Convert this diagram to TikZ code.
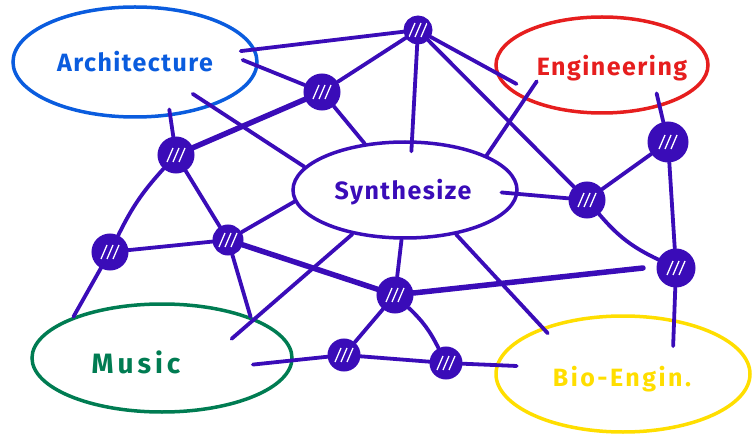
\documentclass[tikz,border=0pt]{standalone}
\usepackage{fontspec}
\setmainfont{Fira Sans}[LetterSpace=6]
\usetikzlibrary{shapes.geometric}

\definecolor{net}{RGB}{58,12,184}
\definecolor{archblue}{RGB}{10,92,222}
\definecolor{engred}{RGB}{230,30,30}
\definecolor{musicgreen}{RGB}{0,124,82}
\definecolor{bioyellow}{RGB}{255,222,0}

\begin{document}
\begin{tikzpicture}[x=1pt, y=-1pt,
    field/.style={ellipse, draw=#1, line width=3.5pt, inner sep=0pt},
    fieldname/.style={text=#1, font=\fontsize{25}{30}\selectfont\bfseries},
    hub/.style={circle, draw=net, fill=net, line width=3pt,
                minimum size=#1, inner sep=0pt,
                path picture={\foreach \o in {-6,0,6}
                    \draw[white, line width=1.3pt]
                        ([xshift={(\o-3)*1pt}, yshift=-7pt]path picture bounding box.center)
                     -- ([xshift={(\o+3)*1pt}, yshift=7pt]path picture bounding box.center);}},
    link/.style={draw=net, line width=3.8pt, line cap=round},
    heavy/.style={link, line width=5.5pt},
]
    \useasboundingbox (0,0) rectangle (752,438);

    % the five fields
    \node[field=archblue, minimum width=244, minimum height=110] (arch) at (135,62) {};
    \node[field=engred, minimum width=212, minimum height=96] (eng) at (602,65) {};
    \node[field=net, minimum width=224, minimum height=96] (synth) at (405,190) {};
    \node[field=musicgreen, minimum width=260, minimum height=108] (music) at (162,358) {};
    \node[field=bioyellow, minimum width=254, minimum height=116] (bio) at (623,374) {};

    \node[fieldname=archblue] (arch label) at (135,62) {Architecture};
    \node[fieldname=engred] (eng label) at (612,68) {Engineering};
    \node[fieldname=net] (synth label) at (403,192) {Synthesize};
    \node[fieldname=musicgreen, font=\fontsize{28}{32}\selectfont\bfseries\addfontfeatures{LetterSpace=14}] (music label) at (136,362) {Music};
    \node[fieldname=bioyellow, font=\fontsize{25}{30}\selectfont\bfseries\addfontfeatures{LetterSpace=10}] (bio label) at (622,379) {Bio-Engin.};

    % hubs
    \node[hub=26] (h1) at (418,30) {};
    \node[hub=34] (h2) at (322,92) {};
    \node[hub=34] (h3) at (176,155) {};
    \node[hub=38] (h4) at (668,142) {};
    \node[hub=34] (h5) at (587,200) {};
    \node[hub=34] (h6) at (110,252) {};
    \node[hub=28] (h7) at (228,240) {};
    \node[hub=34] (h8) at (395,295) {};
    \node[hub=36] (h9) at (676,268) {};
    \node[hub=30] (h10) at (344,355) {};
    \node[hub=30] (h11) at (446,363) {};
    \coordinate (stub) at (643,268);

    % links
    \draw[link, shorten <=-15pt] (arch.6) -- (h1);
    \draw[link, shorten <=-17pt] (arch.-2) -- (h2);
    \draw[link, shorten <=-23pt] (arch.-30) -- (synth.167);
    \draw[link, shorten <=-7pt] (arch.-57) -- (h3);
    \draw[heavy] (h3) -- (h2);
    \draw[link] (h2) -- (h1);
    \draw[link] (h2) -- (synth.131);
    \draw[link, shorten >=-11pt] (h1) -- (synth.82);
    \draw[link, shorten >=-24pt] (h1) -- (eng.184);
    \draw[link] (h1) -- (h5);
    \draw[link, shorten <=-22pt] (eng.204) -- (synth.23);
    \draw[link, shorten <=-14pt] (eng.-36) -- (h4);
    \draw[link] (h4) -- (h5);
    \draw[link] (h4) -- (h9);
    \draw[link, shorten <=-17pt] (synth.-2) -- (h5);
    \draw[link] (h5) to[bend right=12] (h9);
    \draw[link, shorten >=-27pt] (h9) -- (bio.47);
    \draw[heavy] (h8) -- (stub);
    \draw[link, shorten >=-8pt] (synth.-41) -- (bio.150);
    \draw[link] (synth.-94) -- (h8);
    \draw[link] (h8) to[bend left=10] (h11);
    \draw[link] (h10) -- (h11);
    \draw[link, shorten >=-21pt] (h11) -- (bio.176);
    \draw[link, shorten <=-41pt] (music.-1) -- (h10);
    \draw[link] (h10) -- (h8);
    \draw[heavy] (h7) -- (h8);
    \draw[link] (h7) -- (h6);
    \draw[link] (h7) -- (synth.186);
    \draw[link] (h7) -- (music.25);
    \draw[link, shorten >=-31pt] (synth.-140) -- (music.23);
    \draw[link] (h3) to[bend right=8] (h6);
    \draw[link] (h3) -- (h7);
    \draw[link] (h6) -- (music.155);
\end{tikzpicture}
\end{document}
